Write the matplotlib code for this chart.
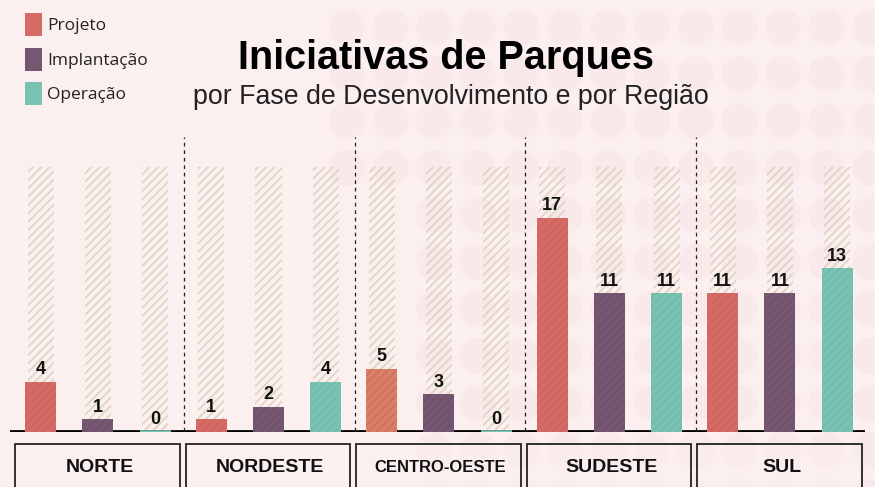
import matplotlib
matplotlib.use("Agg")
import matplotlib.pyplot as plt
from matplotlib.patches import Rectangle, Circle
import numpy as np

# data
regioes = ["NORTE", "NORDESTE", "CENTRO-OESTE", "SUDESTE", "SUL"]
fases = ["Projeto", "Implantação", "Operação"]
projeto = [4, 1, 5, 17, 11]
implantacao = [1, 2, 3, 11, 11]
operacao = [0, 4, 0, 11, 13]
escala_max = 21  # altura das barras hachuradas de fundo

titulo = "Iniciativas de Parques"
subtitulo = "por Fase de Desenvolvimento e por Região"

# estilo
BG = "#fcefef"
DOT = "#f9e9eb"
cores = ["#d66b66", "#765771", "#78c2b2"]
cor_co_projeto = "#d98066"
cores_hatch = ["#c65f5b", "#6b4d66", "#6db5a5"]
HATCH_BG = "#ddd5c0"
SANS = ["Liberation Sans", "DejaVu Sans"]

plt.rcParams["hatch.linewidth"] = 1.2

W, H = 875, 487
fig = plt.figure(figsize=(W / 100, H / 100), dpi=100)
fig.patch.set_facecolor(BG)

# fundo com bolinhas (coordenadas em pixels)
bg = fig.add_axes([0, 0, 1, 1], zorder=-1)
bg.set_xlim(0, W)
bg.set_ylim(H, 0)
bg.axis("off")
bg.set_facecolor(BG)
for cy in np.arange(27, H + 40, 47):
    for cx in np.arange(347, W + 30, 43.6):
        if cy > 190 and cx < 420:
            continue
        bg.add_patch(Circle((cx, cy), 18, color=DOT, lw=0, zorder=0))

# legenda
leg_y = [13, 48, 82]
for nome, cor, y in zip(fases, cores, leg_y):
    bg.add_patch(Rectangle((25, y), 17, 23, color=cor, lw=0, zorder=2))
    bg.text(47, y + 13, nome, fontsize=12.5, family=["Open Sans", "DejaVu Sans"],
            va="center", ha="left", color="#222222", zorder=3)

bg.text(446, 58, titulo, fontsize=28.5, fontweight="bold", family=SANS,
        ha="center", va="center", color="black")
bg.text(451, 97, subtitulo, fontsize=19.3, family=SANS,
        ha="center", va="center", color="#222222")

# eixo principal
ax = fig.add_axes([10 / W, 55 / H, 855 / W, 302.4 / H])
ax.set_xlim(-0.516, 4.499)
ax.set_ylim(0, 24)
ax.patch.set_alpha(0)
ax.axis("off")

x = np.arange(len(regioes))
off = 0.335
series = [projeto, implantacao, operacao]

for k, vals in enumerate(series):
    xs = x + (k - 1) * off
    ax.bar(xs, [escala_max] * len(xs), width=0.153, facecolor="none",
           edgecolor=HATCH_BG, hatch="////", linewidth=0, zorder=1)
    cols = [cores[k]] * len(xs)
    if k == 0:
        cols[2] = cor_co_projeto
    bars = ax.bar(xs, vals, width=0.182, color=cols, linewidth=0, zorder=3)
    ax.bar(xs, vals, width=0.182, facecolor="none", edgecolor=cores_hatch[k],
           hatch="////", linewidth=0, zorder=3.5, alpha=0.5)
    for b, v in zip(bars, vals):
        if v == 0:
            ax.plot([b.get_x(), b.get_x() + b.get_width()], [0, 0],
                    color=cores[k], lw=2.6, solid_capstyle="butt", zorder=4)
        ax.annotate(str(v), (b.get_x() + b.get_width() / 2, v),
                    xytext=(0, 5.5), textcoords="offset points",
                    ha="center", va="baseline", fontsize=13, fontweight="bold",
                    family=SANS, color="#111111", zorder=5)

# linha de base
ax.axhline(0, color="black", lw=2.7, zorder=2)

# divisórias
for g in range(len(regioes) - 1):
    ax.plot([g + 0.505, g + 0.505], [0.1, 23.4], color="#222222", lw=0.9,
            ls=(0, (3, 3)), zorder=2)

# caixas das regiões
for g, nome in enumerate(regioes):
    ax.add_patch(Rectangle((g - 0.485, -5), 0.965, 5 - 0.95, facecolor=BG, alpha=0.6,
                           edgecolor="none", clip_on=False, zorder=2))
    ax.add_patch(Rectangle((g - 0.485, -5), 0.965, 5 - 0.95, facecolor="none",
                           edgecolor="#222222", lw=1.3, clip_on=False, zorder=3))
    fs = 12 if len(nome) > 10 else 14
    ax.text(g + 0.01, -2.78, nome, ha="center", va="center", fontsize=fs,
            fontweight="bold", family=SANS, color="#111111", zorder=4)

fig.savefig("out.png", dpi=100, facecolor=BG)
